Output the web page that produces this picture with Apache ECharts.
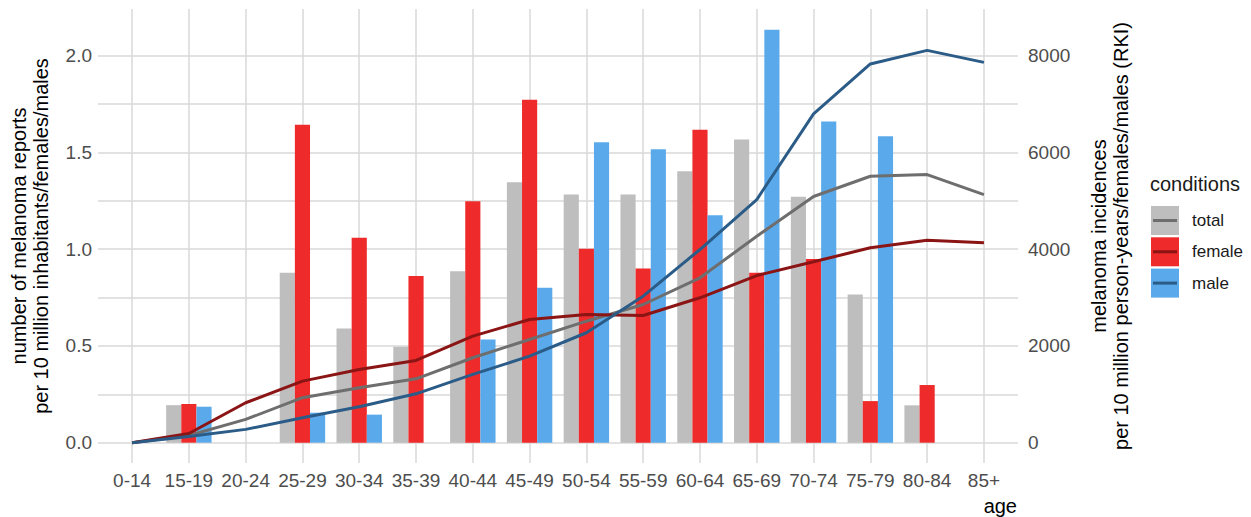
<!DOCTYPE html>
<html><head><meta charset="utf-8">
<script src="https://cdn.jsdelivr.net/npm/echarts@6/dist/echarts.min.js"></script>
<style>html,body{margin:0;padding:0;background:#fff}#c{width:1251px;height:517px}</style>
</head><body><div id="c"></div>
<script>
const categories = ['0-14','15-19','20-24','25-29','30-34','35-39','40-44','45-49','50-54','55-59','60-64','65-69','70-74','75-79','80-84','85+'];
// bars: number of melanoma reports per 10 million (left axis)
const reportsTotal  = [null,0.194,null,0.878,0.590,0.496,0.886,1.346,1.283,1.283,1.403,1.567,1.271,0.766,0.193,null];
const reportsFemale = [null,0.200,null,1.644,1.059,0.861,1.248,1.773,1.002,0.900,1.618,0.878,0.950,0.215,0.298,null];
const reportsMale   = [null,0.186,null,0.155,0.145,null,0.534,0.801,1.553,1.517,1.176,2.135,1.660,1.584,null,null];
// lines: melanoma incidences per 10 million person-years (right axis, RKI)
const incTotal  = [0,150,481,930,1136,1320,1756,2134,2512,2857,3409,4268,5090,5508,5543,5130];
const incFemale = [0,190,826,1273,1514,1700,2202,2547,2651,2630,2996,3456,3740,4029,4186,4132];
const incMale   = [0,130,275,517,744,1010,1411,1789,2273,3029,3994,5027,6800,7830,8111,7863];
const legendNames = ['total','female','male'];

const barColors  = ['#BEBEBE','#EE2A2A','#5AAAEB'];
const lineColors = ['#6E6E6E','#8B1414','#2B5C88'];
const gridColor = '#D9D9D9';
const tickColor = '#4D4D4D';
const FONT = 'Liberation Sans, Arial, sans-serif';

const pairs = arr => arr.map((v,i)=>[i,v]).filter(d=>d[1]!==null);

const barSeries = [reportsTotal, reportsFemale, reportsMale].map((arr,k)=>({
  name: legendNames[k], type:'bar', xAxisIndex:0, yAxisIndex:0,
  data: pairs(arr), barGap:'0%', barCategoryGap:'20%',
  itemStyle:{color:barColors[k]}, z:2
}));
const lineSeries = [incTotal, incFemale, incMale].map((arr,k)=>({
  name: legendNames[k]+' incidence', type:'line', xAxisIndex:0, yAxisIndex:1,
  data: pairs(arr), showSymbol:false, symbol:'none',
  lineStyle:{color:lineColors[k], width:3}, itemStyle:{color:lineColors[k]}, z:5
}));

const graphics = [];
graphics.push({type:'text', left:1150, top:174, style:{text:'conditions', font:'20px '+FONT, fill:'#1A1A1A'}});
legendNames.forEach((n,k)=>{
  const y0 = 206 + k*31.3;
  graphics.push({type:'rect', shape:{x:1151, y:y0, width:28, height:29}, style:{fill:barColors[k]}});
  graphics.push({type:'line', shape:{x1:1153, y1:y0+14.5, x2:1177, y2:y0+14.5}, style:{stroke:lineColors[k], lineWidth:3}});
  graphics.push({type:'text', x:1192, y:y0+14.5, style:{text:n, font:'17px '+FONT, fill:'#1A1A1A', textVerticalAlign:'middle', verticalAlign:'middle'}});
});
graphics.push({type:'text', x:1017, y:506, style:{text:'age', font:'20px '+FONT, fill:'#000', align:'right', textAlign:'right', verticalAlign:'middle', textVerticalAlign:'middle'}});

const chart = echarts.init(document.getElementById('c'), null, {renderer:'svg'});
chart.setOption({
  animation:false,
  backgroundColor:'#fff',
  grid:{left:94, right:233, top:9, bottom:54, containLabel:false},
  xAxis:{
    type:'value', min:-0.6, max:15.6, splitNumber:16, minInterval:1, maxInterval:1,
    axisLine:{show:false}, axisTick:{show:false},
    axisLabel:{color:tickColor, fontSize:19, fontFamily:FONT, margin:8, showMinLabel:false, showMaxLabel:false,
      formatter:v => (Number.isInteger(v) && categories[v]!==undefined) ? categories[v] : ''},
    splitLine:{show:true, showMinLine:false, showMaxLine:false, lineStyle:{color:gridColor, width:1.5}}
  },
  yAxis:[{
    type:'value', min:-0.105, max:2.2417, splitNumber:5,
    axisLine:{show:false}, axisTick:{show:false},
    axisLabel:{color:tickColor, fontSize:19, fontFamily:FONT, margin:6, showMinLabel:false, showMaxLabel:false,
      formatter:v => v.toFixed(1)},
    splitLine:{show:true, showMinLine:false, showMaxLine:false, lineStyle:{color:gridColor, width:1.5}},
    minorTick:{show:false, splitNumber:2},
    minorSplitLine:{show:true, lineStyle:{color:gridColor, width:1.5}},
    name:'number of melanoma reports\nper 10 million inhabitants/females/males',
    nameLocation:'middle', nameGap:46,
    nameTextStyle:{color:'#000', fontSize:20, fontFamily:FONT, lineHeight:22}
  },{
    type:'value', min:-420, max:8966.8, splitNumber:5,
    axisLine:{show:false}, axisTick:{show:false},
    axisLabel:{color:tickColor, fontSize:19, fontFamily:FONT, margin:10, showMinLabel:false, showMaxLabel:false,
      formatter:v => String(Math.round(v))},
    splitLine:{show:false},
    name:'melanoma incidences\nper 10 million person-years/females/males (RKI)',
    nameLocation:'middle', nameGap:70,
    nameTextStyle:{color:'#000', fontSize:20, fontFamily:FONT, lineHeight:22}
  }],
  graphic: graphics,
  series: barSeries.concat(lineSeries)
});
</script>
</body></html>
